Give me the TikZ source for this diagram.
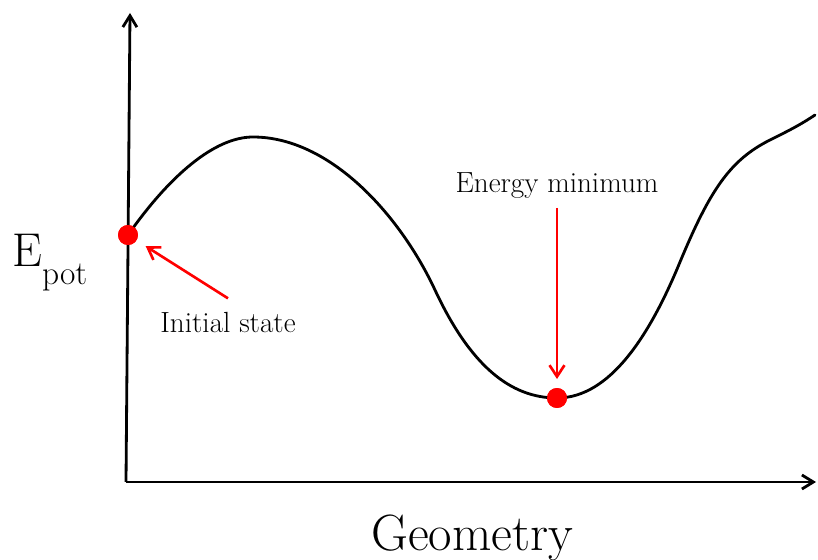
\documentclass[tikz,border=0pt]{standalone}
\usetikzlibrary{arrows.meta, positioning}

\begin{document}
\begin{tikzpicture}[
  x=0.02cm, y=-0.02cm,
  axis/.style={line width=1.6pt, -{Straight Barb[length=6.5pt, width=8pt]}},
  curve/.style={line width=1.6pt, line cap=round},
  dot/.style={circle, fill=red, inner sep=0pt, outer sep=0pt,
              minimum size=0.4cm},
  lbl/.style={inner sep=0pt, font=\fontsize{16.6}{20}\selectfont},
  pointer/.style={red, line width=1.5pt,
                  -{Straight Barb[length=6.5pt, width=8.5pt]}},
]
\useasboundingbox (0,0) rectangle (818,560);

% ---- Achsen ----
\coordinate (origin) at (126,482);
\coordinate (ytop)   at (130,13);
\coordinate (xend)   at (816,482);
\draw[axis] (origin) -- (ytop);
\draw[axis] (origin) -- (xend);

% ---- Punkte ----
\node[dot] (init) at (128,235) {};
\node[dot] (emin) at (557,398) {};

% ---- Potentialkurve ----
\draw[curve] (init.center)
  .. controls (170,175) and (215,137) .. (253,137)
  .. controls (330,137) and (400,215) .. (435,290)
  .. controls (470,365) and (510,398) .. (emin.center)
  .. controls (610,398) and (650,335) .. (680,262)
  .. controls (710,190) and (730,160) .. (770,140)
  .. controls (790,130) and (800,125) .. (815,115);
\node[dot] at (init) {};
\node[dot] at (emin) {};

% ---- Beschriftungen ----
\node[lbl, anchor=base] (elabel) at (557,193) {Energy minimum};
\node[lbl, anchor=base] (ilabel) at (228,333) {Initial state};
\node[inner sep=0pt, anchor=base, font=\fontsize{29}{32}\selectfont]
  (xlabel) at (472,550) {Geometry};
\node[inner sep=0pt, anchor=base west, font=\fontsize{27}{30}\selectfont]
  (ylabel) at (12,267) {E\raisebox{-10pt}{\fontsize{19}{22}\selectfont pot}};

% ---- Pfeile ----
\draw[pointer, shorten <=0.17cm, shorten >=0.18cm] (elabel.south) -- (emin);
\draw[pointer, shorten >=0.22cm] ([yshift=8pt]ilabel.north) -- (init);

\end{tikzpicture}
\end{document}
